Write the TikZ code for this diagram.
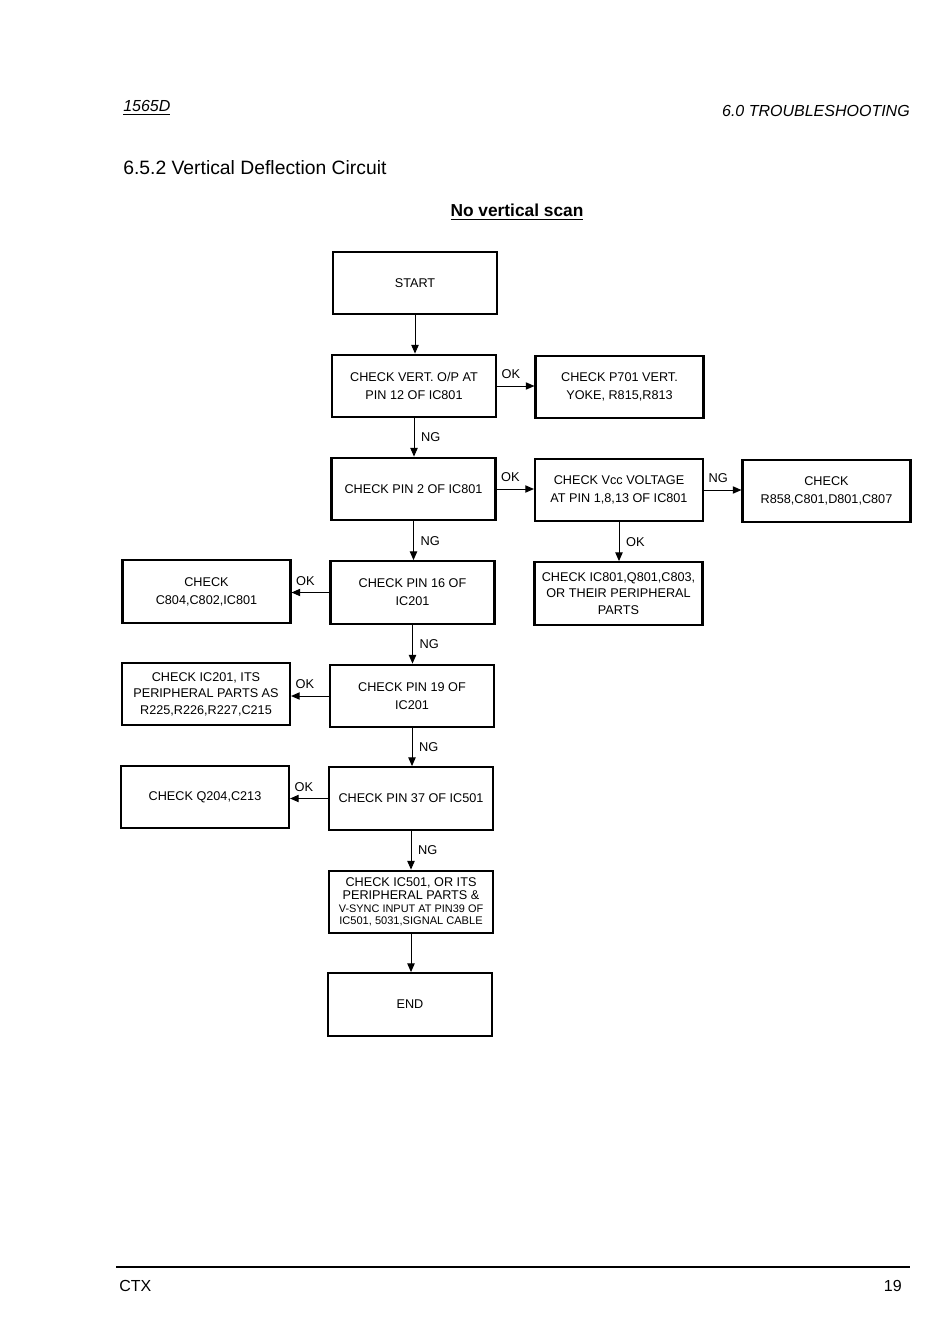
\documentclass[tikz,border=0pt]{standalone}
\usepackage{fontspec}
\setmainfont{Liberation Sans}
\usetikzlibrary{arrows.meta}

\begin{document}
\begin{tikzpicture}[x=0.75pt,y=-0.75pt,
  chk/.style={draw,line width=1.6pt,minimum width=123pt,minimum height=47pt,
    inner sep=0pt,align=center,font=\fontsize{9.5}{13.5}\selectfont},
  chkw/.style={chk,minimum width=126pt},
  three/.style={font=\fontsize{9.5}{12.4}\selectfont},
  lnk/.style={-{Triangle[length=6.5pt,width=5.5pt]},line width=0.75pt},
  lbl/.style={font=\fontsize{9.6}{11}\selectfont,inner sep=1pt}]
  \useasboundingbox (0,0) rectangle (950,1341);

  % page head
  \node[anchor=base west,font=\fontsize{12}{14}\selectfont\itshape,inner sep=0pt] (model) at (123,112) {\underline{1565D}};
  \node[anchor=base east,font=\fontsize{12}{14}\selectfont\itshape,inner sep=0pt] (chap) at (910,117) {6.0 TROUBLESHOOTING};
  \node[anchor=base west,font=\fontsize{14.5}{17}\selectfont,inner sep=0pt] (sect) at (123,175) {6.5.2 Vertical Deflection Circuit};
  \node[anchor=base,font=\fontsize{13}{15}\selectfont\bfseries,inner sep=0pt] (ttl) at (517,217) {\underline{No vertical scan}};

  % boxes
  \node[chk] (start) at (415,283) {START};
  \node[chk] (vert) at (414,386) {CHECK VERT. O/P AT\\PIN 12 OF IC801};
  \node[chkw] (p701) at (619.5,387) {CHECK P701 VERT.\\YOKE, R815,R813};
  \node[chk] (pin2) at (413.5,489) {CHECK PIN 2 OF IC801};
  \node[chkw] (vcc) at (619,490) {CHECK Vcc VOLTAGE\\AT PIN 1,8,13 OF IC801};
  \node[chkw] (r858) at (826.5,491) {CHECK\\R858,C801,D801,C807};
  \node[chk] (pin16) at (412.5,592.5) {CHECK PIN 16 OF\\IC201};
  \node[chkw,three] (ic801) at (618.5,593.5) {CHECK IC801,Q801,C803,\\OR THEIR PERIPHERAL\\PARTS};
  \node[chkw] (c804) at (206.5,591.5) {CHECK\\C804,C802,IC801};
  \node[chk] (pin19) at (412,696) {CHECK PIN 19 OF\\IC201};
  \node[chkw,three] (ic201) at (206,694) {CHECK IC201, ITS\\PERIPHERAL PARTS AS\\R225,R226,R227,C215};
  \node[chk] (pin37) at (411,798.5) {CHECK PIN 37 OF IC501};
  \node[chkw] (q204) at (205,797) {CHECK Q204,C213};
  \node[chk,font=\fontsize{9.5}{9.6}\selectfont] (ic501) at (411,902)
    {CHECK IC501, OR ITS\\PERIPHERAL PARTS \&\\{\fontsize{8.2}{9.6}\selectfont V-SYNC INPUT AT PIN39 OF}\\{\fontsize{8.3}{9.6}\selectfont IC501, 5031,SIGNAL CABLE}};
  \node[chk] (end) at (410,1004.5) {END};

  % main line
  \draw[lnk] (start) -- (start |- vert.north);
  \draw[lnk] (vert) -- (vert |- pin2.north) node[lbl,midway,right,xshift=4pt] {NG};
  \draw[lnk] (pin2) -- (pin2 |- pin16.north) node[lbl,midway,right,xshift=4pt] {NG};
  \draw[lnk] (pin16) -- (pin16 |- pin19.north) node[lbl,midway,right,xshift=4pt] {NG};
  \draw[lnk] (pin19) -- (pin19 |- pin37.north) node[lbl,midway,right,xshift=4pt] {NG};
  \draw[lnk] (pin37) -- (pin37 |- ic501.north) node[lbl,midway,right,xshift=4pt] {NG};
  \draw[lnk] (ic501) -- (ic501 |- end.north);

  % branches to the right
  \draw[lnk] (vert) -- (vert -| p701.west) node[lbl,pos=0,anchor=south west,xshift=2pt,yshift=4pt] {OK};
  \draw[lnk] (pin2) -- (pin2 -| vcc.west) node[lbl,pos=0,anchor=south west,xshift=2pt,yshift=4pt] {OK};
  \draw[lnk] (vcc) -- (vcc -| r858.west) node[lbl,pos=0,anchor=south west,xshift=2pt,yshift=4pt] {NG};
  \draw[lnk] (vcc) -- (vcc |- ic801.north) node[lbl,midway,right,xshift=4pt] {OK};

  % branches to the left
  \draw[lnk] (pin16) -- (pin16 -| c804.east) node[lbl,pos=1,anchor=south west,xshift=2pt,yshift=4pt] {OK};
  \draw[lnk] (pin19) -- (pin19 -| ic201.east) node[lbl,pos=1,anchor=south west,xshift=2pt,yshift=4pt] {OK};
  \draw[lnk] (pin37) -- (pin37 -| q204.east) node[lbl,pos=1,anchor=south west,xshift=2pt,yshift=4pt] {OK};

  % page foot
  \coordinate (fl) at (116,1267);
  \coordinate (fr) at (910,1267);
  \draw[line width=1.5pt] (fl) -- (fr);
  \node[anchor=base west,font=\fontsize{12}{14}\selectfont,inner sep=0pt] (brand) at (119,1291) {CTX};
  \node[anchor=base east,font=\fontsize{12}{14}\selectfont,inner sep=0pt] (pg) at (902,1291) {19};
\end{tikzpicture}
\end{document}
